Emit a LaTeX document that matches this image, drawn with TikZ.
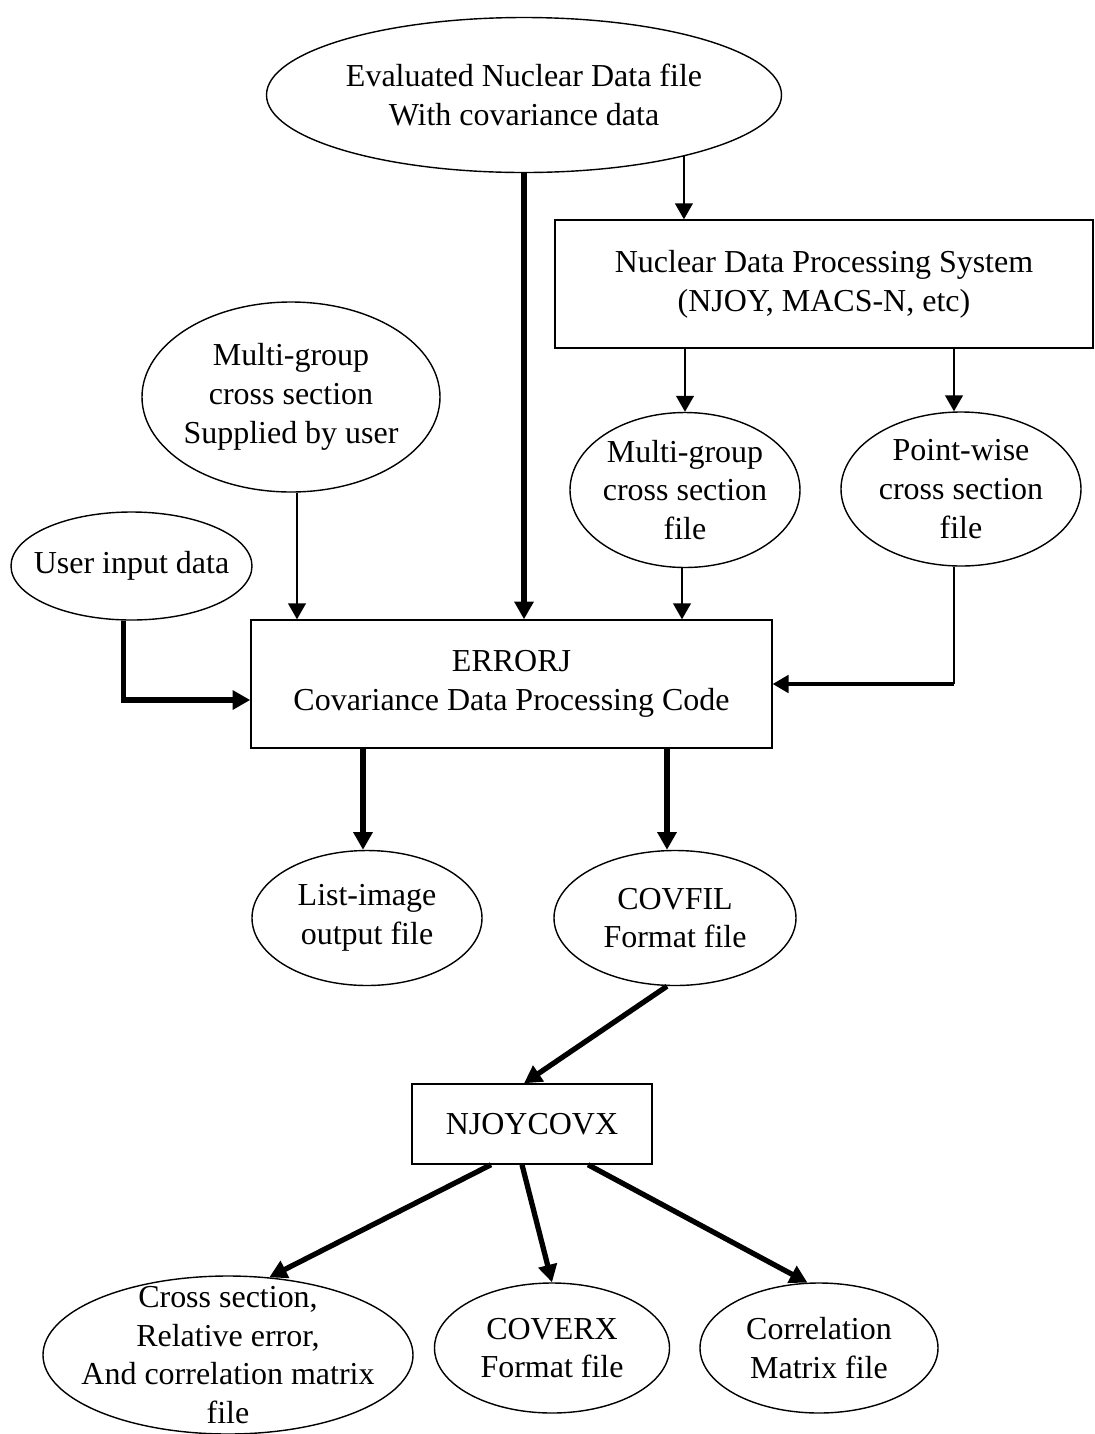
\documentclass[tikz,border=0pt]{standalone}
\usepackage{fontspec}
\setmainfont{Liberation Serif}
\usepackage{tikz}
\usetikzlibrary{arrows.meta,shapes.geometric,positioning}

\begin{document}
\begin{tikzpicture}[
    ell/.style={ellipse, draw, line width=0.8pt, inner sep=0pt},
    procbox/.style={rectangle, draw, line width=0.8pt, inner sep=0pt},
    lbl/.style={align=center, inner sep=0pt, font=\fontsize{18.2}{22}\selectfont},
    thinarrow/.style={line width=1.1pt, -{Triangle[length=9pt,width=10pt]}},
    thickarrow/.style={line width=3pt, -{Triangle[length=10pt,width=10.5pt]}}
]
        \useasboundingbox (0,0) rectangle (21.9,-28.68);
        % Input files
        \node[ell, minimum width=10.3cm, minimum height=3.1cm] (evd) at (10.48,-1.9) {};
        \node[lbl] (evdtxt) at (evd) {Evaluated Nuclear Data file\\With covariance data};
        \node[ell, minimum width=5.96cm, minimum height=3.8cm] (mguser) at (5.82,-7.94) {};
        \node[lbl] (mgusertxt) at (mguser) {Multi-group\\cross section\\Supplied by user};
        \node[ell, minimum width=4.82cm, minimum height=2.16cm] (userin) at (2.63,-11.32) {};
        \node[lbl] (userintxt) at (userin) {User input data};
        % Processing system
        \node[procbox, minimum width=10.76cm, minimum height=2.56cm] (ndps) at (16.48,-5.68) {};
        \node[lbl] (ndpstxt) at (ndps) {Nuclear Data Processing System\\(NJOY, MACS-N, etc)};
        \node[ell, minimum width=4.6cm, minimum height=3.1cm] (mgfile) at (13.7,-9.8) {};
        \node[lbl] (mgfiletxt) at (mgfile) {Multi-group\\cross section\\file};
        \node[ell, minimum width=4.8cm, minimum height=3.08cm] (pwfile) at (19.22,-9.78) {};
        \node[lbl] (pwfiletxt) at (pwfile) {Point-wise\\cross section\\file};
        % ERRORJ
        \node[procbox, minimum width=10.42cm, minimum height=2.56cm] (errorj) at (10.23,-13.68) {};
        \node[lbl] (errorjtxt) at (errorj) {ERRORJ\\Covariance Data Processing Code};
        \node[ell, minimum width=4.6cm, minimum height=2.7cm] (listimg) at (7.34,-18.36) {};
        \node[lbl] (listimgtxt) at (listimg) {List-image\\output file};
        \node[ell, minimum width=4.84cm, minimum height=2.7cm] (covfil) at (13.5,-18.36) {};
        \node[lbl] (covfiltxt) at (covfil) {COVFIL\\Format file};
        % NJOYCOVX
        \node[procbox, minimum width=4.8cm, minimum height=1.6cm] (njoy) at (10.64,-22.48) {};
        \node[lbl] (njoytxt) at (njoy) {NJOYCOVX};
        \node[ell, minimum width=7.4cm, minimum height=3.16cm] (cross) at (4.56,-27.1) {};
        \node[lbl] (crosstxt) at (cross) {Cross section,\\Relative error,\\And correlation matrix\\file};
        \node[ell, minimum width=4.7cm, minimum height=2.6cm] (coverx) at (11.04,-26.96) {};
        \node[lbl] (coverxtxt) at (coverx) {COVERX\\Format file};
        \node[ell, minimum width=4.76cm, minimum height=2.6cm] (corr) at (16.38,-26.96) {};
        \node[lbl] (corrtxt) at (corr) {Correlation\\Matrix file};

        % Arrows
        \draw[thinarrow] (evd.-21) -- (evd.-21 |- ndps.north);
        \draw[thickarrow] (evd.south) -- (evd.south |- errorj.north);
        \draw[thinarrow] (ndps.south -| mgfile.north) -- (mgfile.north);
        \draw[thinarrow] ([xshift=-1.4mm]ndps.south -| pwfile.north) -- ([xshift=-1.4mm]pwfile.north);
        \draw[thinarrow] ([xshift=1.2mm]mguser.south) -- ([xshift=1.2mm]mguser.south |- errorj.north);
        \draw[thickarrow] ([xshift=-1.6mm]userin.south) |- ([yshift=-3.2mm]errorj.west);
        \draw[thinarrow] ([xshift=-0.6mm]mgfile.south) -- ([xshift=-0.6mm]mgfile.south |- errorj.north);
        \draw[line width=1.1pt] ([xshift=-1.4mm]pwfile.south) -- ([xshift=-1.4mm]pwfile.south |- errorj.east) coordinate (pwbend);
        \draw[line width=1.8pt, -{Triangle[length=9pt,width=10pt]}] (pwbend) -- (errorj.east);
        \draw[thickarrow] ([xshift=-0.8mm]listimg.north |- errorj.south) -- ([xshift=-0.8mm]listimg.north);
        \draw[thickarrow] ([xshift=-1.6mm]covfil.north |- errorj.south) -- ([xshift=-1.6mm]covfil.north);
        \draw[thickarrow] ([xshift=-1.6mm]covfil.south) -- ([xshift=-1.6mm]njoy.north);
        \draw[thickarrow] ([xshift=-8.2mm]njoy.south) -- (cross.62);
        \draw[thickarrow] ([xshift=-2mm]njoy.south) -- (coverx.north);
        \draw[thickarrow] ([xshift=11.2mm]njoy.south) -- (corr.100);
    \end{tikzpicture}
\end{document}
